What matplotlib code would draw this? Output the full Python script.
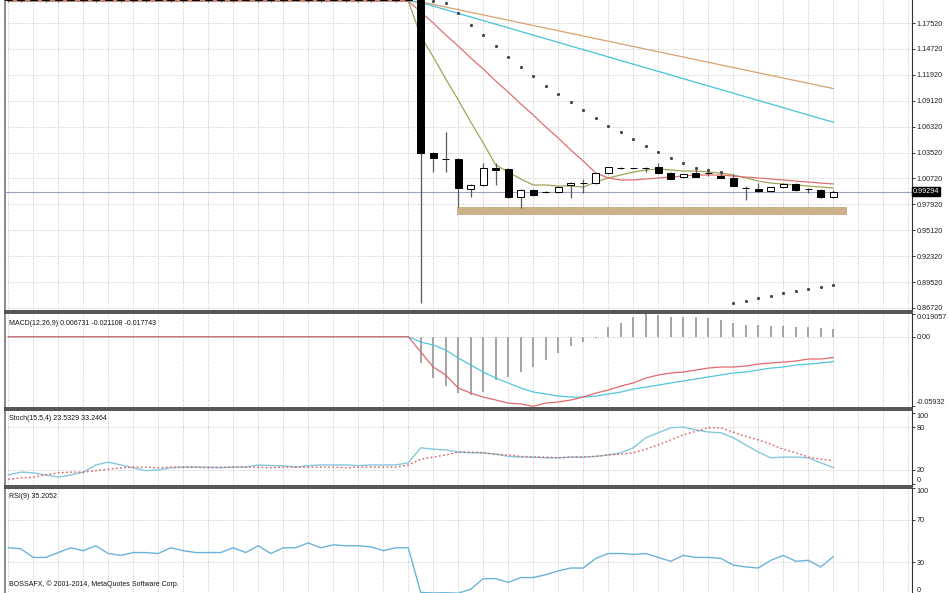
import numpy as np
import matplotlib
matplotlib.use("Agg")
import matplotlib.pyplot as plt

W, H = 948, 593

# candles, index 0..66 (peg period, then the drop)
OPEN = [1.2003, 1.2004, 1.2002, 1.2003, 1.2004, 1.2003, 1.2002, 1.2003, 1.2004, 1.2003,
        1.2003, 1.2002, 1.2003, 1.2004, 1.2003, 1.2003, 1.2002, 1.2003, 1.2004, 1.2003,
        1.2003, 1.2002, 1.2003, 1.2004, 1.2003, 1.2003, 1.2002, 1.2003, 1.2004, 1.2003,
        1.2003, 1.2004, 1.2003,
        1.2005, 1.0347, 1.0282, 1.0282, 0.9958, 1.0001, 1.0185, 1.0174, 0.9871, 0.9947,
        0.9925, 0.9925, 1.0001, 1.0020, 1.0022, 1.0131, 1.0185, 1.0180, 1.0182, 1.0195,
        1.0131, 1.0087, 1.0131, 1.0131, 1.0098, 1.0077, 0.9970, 0.9958, 0.9936, 0.9979,
        1.0012, 0.9958, 0.9947, 0.9871]
HIGH = [1.2008] * 33 + [
        1.2008, 1.0358, 1.0574, 1.0290, 1.0012, 1.0239, 1.0239, 1.0185, 0.9958, 0.9958,
        0.9936, 0.9990, 1.0033, 1.0066, 1.0131, 1.0200, 1.0195, 1.0190, 1.0195, 1.0239,
        1.0141, 1.0120, 1.0174, 1.0163, 1.0152, 1.0120, 0.9990, 1.0022, 0.9970, 1.0022,
        1.0022, 0.9968, 0.9958, 0.9947]
LOW = [1.1984, 1.1980, 1.1986, 1.1982, 1.1978, 1.1985, 1.1983, 1.1981, 1.1986, 1.1984,
       1.1979, 1.1983, 1.1985, 1.1982, 1.1980, 1.1986, 1.1984, 1.1981, 1.1983, 1.1985,
       1.1979, 1.1984, 1.1982, 1.1986, 1.1980, 1.1983, 1.1985, 1.1981, 1.1984, 1.1982,
       1.1986, 1.1983, 1.1985,
       0.8725, 1.0141, 1.0141, 0.9763, 0.9871, 0.9990, 1.0001, 0.9860, 0.9752, 0.9882,
       0.9914, 0.9914, 0.9860, 0.9914, 1.0012, 1.0120, 1.0174, 1.0170, 1.0141, 1.0120,
       1.0066, 1.0077, 1.0087, 1.0098, 1.0077, 0.9990, 0.9839, 0.9930, 0.9925, 0.9970,
       0.9936, 0.9914, 0.9860, 0.9860]
CLOSE = [1.2004, 1.2002, 1.2003, 1.2004, 1.2003, 1.2002, 1.2003, 1.2004, 1.2003, 1.2003,
         1.2002, 1.2003, 1.2004, 1.2003, 1.2003, 1.2002, 1.2003, 1.2004, 1.2003, 1.2003,
         1.2002, 1.2003, 1.2004, 1.2003, 1.2003, 1.2002, 1.2003, 1.2004, 1.2003, 1.2003,
         1.2004, 1.2003, 1.2005,
         1.0347, 1.0293, 1.0280, 0.9968, 1.0001, 1.0185, 1.0163, 0.9871, 0.9947, 0.9893,
         0.9928, 0.9979, 1.0022, 1.0024, 1.0131, 1.0195, 1.0187, 1.0182, 1.0180, 1.0131,
         1.0066, 1.0120, 1.0087, 1.0128, 1.0077, 0.9990, 0.9966, 0.9936, 0.9979, 1.0012,
         0.9947, 0.9955, 0.9871, 0.99294]

MA_ORANGE = [1.1990] * 33 + [
    1.1981, 1.1953, 1.1924, 1.1896, 1.1867, 1.1839, 1.1811, 1.1782, 1.1754, 1.1725,
    1.1697, 1.1669, 1.1640, 1.1612, 1.1583, 1.1555, 1.1527, 1.1498, 1.1470, 1.1441,
    1.1413, 1.1385, 1.1356, 1.1328, 1.1299, 1.1271, 1.1243, 1.1214, 1.1186, 1.1157,
    1.1129, 1.1101, 1.1072, 1.1044]
MA_CYAN = [1.1990] * 33 + [
    1.1974, 1.1935, 1.1896, 1.1856, 1.1817, 1.1778, 1.1739, 1.1700, 1.1660, 1.1621,
    1.1582, 1.1543, 1.1503, 1.1464, 1.1425, 1.1386, 1.1347, 1.1307, 1.1268, 1.1229,
    1.1190, 1.1150, 1.1111, 1.1072, 1.1033, 1.0994, 1.0954, 1.0915, 1.0876, 1.0837,
    1.0797, 1.0758, 1.0719, 1.0680]
MA_RED = [1.1990] * 33 + [
    1.1871, 1.1752, 1.1622, 1.1503, 1.1374, 1.1255, 1.1125, 1.1006, 1.0877, 1.0758,
    1.0628, 1.0509, 1.0379, 1.0260, 1.0131, 1.0077, 1.0055, 1.0055, 1.0066, 1.0077,
    1.0087, 1.0098, 1.0109, 1.0109, 1.0109, 1.0098, 1.0087, 1.0077, 1.0066, 1.0055,
    1.0044, 1.0033, 1.0022, 1.0012]
MA_OLIVE = [1.1990] * 33 + [
    1.1612, 1.1385, 1.1147, 1.0920, 1.0682, 1.0455, 1.0217, 1.0141, 1.0066, 1.0001,
    1.0001, 0.9990, 0.9990, 0.9979, 1.0033, 1.0077, 1.0109, 1.0141, 1.0163, 1.0174,
    1.0163, 1.0152, 1.0152, 1.0141, 1.0131, 1.0109, 1.0077, 1.0044, 1.0022, 1.0012,
    1.0001, 0.9990, 0.9979, 0.9968]
SAR = [np.nan] * 34 + [
    1.1990, 1.1968, 1.1860, 1.1730, 1.1622, 1.1504, 1.1385, 1.1276, 1.1179, 1.1071,
    1.0985, 1.0898, 1.0812, 1.0725, 1.0639, 1.0574, 1.0498, 1.0423, 1.0358, 1.0293,
    1.0239, 1.0185, 1.0163, 1.0141, 0.8725, 0.8747, 0.8779, 0.8801, 0.8833, 0.8855,
    0.8877, 0.8898, 0.8920]
LAST_PRICE = 0.99294
ZONE = (0.9677, 0.9763)
PRICE_TICKS = [1.17520, 1.14720, 1.11920, 1.09120, 1.06320, 1.03520, 1.00720,
               0.97920, 0.95120, 0.92320, 0.89520, 0.86720]

MACD_HIST = [0.0] * 33 + [
    -0.0224, -0.0352, -0.0420, -0.0480, -0.0497, -0.0471, -0.0369, -0.0343, -0.0301, -0.0258,
    -0.0199, -0.0139, -0.0079, -0.0045, -0.0011, 0.0083, 0.0117, 0.0165, 0.0190, 0.0186,
    0.0172, 0.0168, 0.0165, 0.0163, 0.0142, 0.0117, 0.0100, 0.0100, 0.0091, 0.0091,
    0.0083, 0.0080, 0.0074, 0.0067]
MACD_RED = [0.0] * 33 + [
    -0.0130, -0.0258, -0.0326, -0.0437, -0.0480, -0.0514, -0.0539, -0.0565, -0.0573, -0.0593,
    -0.0565, -0.0556, -0.0539, -0.0514, -0.0480, -0.0454, -0.0420, -0.0394, -0.0352, -0.0326,
    -0.0309, -0.0301, -0.0284, -0.0267, -0.0258, -0.0258, -0.0250, -0.0233, -0.0224, -0.0216,
    -0.0207, -0.0190, -0.0190, -0.0177]
MACD_CYAN = [0.0] * 33 + [
    -0.0045, -0.0071, -0.0113, -0.0181, -0.0241, -0.0301, -0.0352, -0.0394, -0.0437, -0.0471,
    -0.0488, -0.0505, -0.0514, -0.0514, -0.0505, -0.0488, -0.0471, -0.0446, -0.0429, -0.0412,
    -0.0394, -0.0377, -0.0360, -0.0343, -0.0326, -0.0309, -0.0301, -0.0284, -0.0267, -0.0258,
    -0.0241, -0.0233, -0.0224, -0.0211]

STOCH_MAIN = [
    13, 17, 16, 13, 10, 13, 17, 27, 31, 27, 23, 19, 20, 23, 24, 24, 24, 23, 24, 24,
    27, 26, 26, 24, 26, 27, 27, 27, 26, 27, 27, 27, 30,
    51, 49, 48, 45, 44, 44, 42, 39, 38, 38, 37, 37, 38, 38, 39, 41, 44, 51, 65, 72,
    79, 80, 76, 73, 72, 65, 55, 45, 37, 38, 38, 37, 30, 23.5]
STOCH_SIGNAL = [
    7, 9, 10, 13, 16, 17, 17, 19, 21, 23, 24, 24, 23, 24, 24, 24, 23, 24, 24, 24,
    24, 23, 24, 24, 24, 24, 24, 23, 24, 24, 24, 24, 27,
    35, 38, 41, 45, 45, 44, 42, 41, 39, 38, 38, 37, 38, 38, 39, 41, 42, 44, 49, 55,
    62, 69, 74, 79, 79, 73, 67, 62, 56, 49, 44, 38, 35, 33.2]
RSI = [
    43.6, 42.7, 34.5, 34.5, 39.1, 43.6, 40.9, 45.5, 38.2, 36.4, 39.1, 39.1, 38.2, 43.6,
    40.9, 39.1, 39.1, 39.1, 43.6, 39.1, 45.5, 38.2, 43.6, 43.6, 48.2, 43.6, 46.4, 45.5,
    45.5, 44.5, 40.9, 43.6, 43.6,
    1.5, 1.0, 1.2, 0.8, 4.5, 14.5, 14.5, 10.9, 15.5, 15.5, 18.2, 21.8, 24.5, 24.5,
    33.6, 38.2, 38.2, 37.3, 38.2, 34.5, 30.9, 36.4, 34.5, 34.5, 33.6, 27.3, 25.5, 24.5,
    31.8, 36.4, 30.9, 31.8, 25.5, 35.2]

plt.rcParams["font.family"] = ["Liberation Sans", "DejaVu Sans"]
GRID = dict(color="#b4b4b4", ls=(0, (1, 2)), lw=0.6)
SEP = "#454545"
LABEL_SIZE = 5.2


def panel(fig, top, bottom, ylim):
    ax = fig.add_axes([5 / W, 1 - bottom / H, 907 / W, (bottom - top) / H])
    ax.set_xlim(-0.26, 72.3)
    ax.set_ylim(*ylim)
    ax.set_xticks(np.arange(0, 73, 2))
    ax.tick_params(axis="x", length=0, labelbottom=False)
    ax.grid(axis="x", **GRID)
    ax.yaxis.tick_right()
    ax.tick_params(axis="y", length=2, width=0.6, pad=1.2, labelsize=LABEL_SIZE, colors="#202020")
    ax.spines["left"].set_color("#8a8a8a")
    ax.spines["left"].set_linewidth(1.4)
    ax.spines["right"].set_color("#303030")
    ax.spines["right"].set_linewidth(0.8)
    for s in ("top", "bottom"):
        ax.spines[s].set_color(SEP)
        ax.spines[s].set_linewidth(1.3)
    return ax


def edge_labels(ax):
    labels = ax.get_yticklabels()
    labels[0].set_va("top")
    labels[-1].set_va("bottom")


fig = plt.figure(figsize=(W / 100, H / 100), dpi=100)
x = np.arange(len(CLOSE))
o, h, l, c = map(np.array, (OPEN, HIGH, LOW, CLOSE))

# main price panel
ax = panel(fig, 0, 311, (0.8639, 1.20007))
ax.spines["top"].set_visible(False)
ax.set_yticks(PRICE_TICKS)
ax.set_yticklabels([f"{v:.5f}" for v in PRICE_TICKS])
ax.grid(axis="y", **GRID)
ax.axhspan(ZONE[0], ZONE[1], xmin=(35.9 + 0.26) / 72.56, xmax=(67.1 + 0.26) / 72.56,
           color="#cdb08a", lw=0, zorder=1)
ax.axhline(LAST_PRICE, color="#9aa4bf", lw=0.8, zorder=1)
ax.plot(x, MA_ORANGE, color="#d9a070", lw=0.9, zorder=2)
ax.plot(x, MA_CYAN, color="#45c3d6", lw=0.9, zorder=2)
ax.plot(x, MA_OLIVE, color="#a3a35a", lw=0.9, zorder=2)
ax.plot(x, MA_RED, color="#e07070", lw=0.9, zorder=2)
ax.vlines(x, l, h, color="#5a5a5a", lw=0.9, zorder=3)
body_col = np.where(c >= o, "white", "black")
ax.bar(x, np.maximum(np.abs(c - o), 0.0005), bottom=np.minimum(o, c), width=0.58,
       color=body_col, edgecolor="black", linewidth=0.7, zorder=4)
ax.plot(x, SAR, ls="none", marker="s", ms=1.1, color="#444444", zorder=5)
ax.text(1.001, LAST_PRICE, f"{LAST_PRICE:.5f}", transform=ax.get_yaxis_transform(),
        ha="left", va="center", fontsize=LABEL_SIZE, color="white",
        bbox=dict(boxstyle="square,pad=0.15", fc="black", ec="black"), zorder=6, clip_on=False)

# MACD
am = panel(fig, 313, 408, (-0.0607, 0.0202))
am.axhline(0, **GRID)
am.bar(x, MACD_HIST, width=0.16, color="#a6a6a6", zorder=2)
am.plot(x, MACD_CYAN, color="#52c6dc", lw=0.9, zorder=3)
am.plot(x, MACD_RED, color="#e06a6a", lw=0.9, zorder=3)
am.set_yticks([0.019057, 0.0, -0.05932])
am.set_yticklabels(["0.019057", "0.00", "-0.05932"])
edge_labels(am)
am.text(0.004, 0.93, "MACD(12,26,9) 0.006731 -0.021108 -0.017743", transform=am.transAxes,
        fontsize=5, va="top", ha="left", color="#111111")

# Stochastic
ast = panel(fig, 410, 486, (-2.4, 103.8))
for lv in (80, 20):
    ast.axhline(lv, **GRID)
ast.plot(x, STOCH_MAIN, color="#86c8de", lw=1.0, zorder=3)
ast.plot(x, STOCH_SIGNAL, color="#e05a5a", lw=1.0, ls=(0, (1.2, 1.8)), zorder=3)
ast.set_yticks([100, 80, 20, 0])
ast.set_yticklabels(["100", "80", "20", "0"])
edge_labels(ast)
ast.text(0.004, 0.94, "Stoch(15,5,4) 23.5329 33.2464", transform=ast.transAxes,
         fontsize=5, va="top", ha="left", color="#111111")

# RSI
ar = panel(fig, 488, 594, (0, 100))
ar.spines["bottom"].set_visible(False)
for lv in (70, 30):
    ar.axhline(lv, **GRID)
ar.plot(x, RSI, color="#6ab4da", lw=1.0, zorder=3)
ar.set_yticks([100, 70, 30, 0])
ar.set_yticklabels(["100", "70", "30", "0"])
edge_labels(ar)
ar.text(0.004, 0.95, "RSI(9) 35.2052", transform=ar.transAxes,
        fontsize=5, va="top", ha="left", color="#111111")
ar.text(0.004, 0.06, "BOSSAFX, \u00a9 2001-2014, MetaQuotes Software Corp.",
        transform=ar.transAxes, fontsize=5, va="bottom", ha="left", color="#111111")

fig.savefig("out.png", dpi=100, facecolor="white")
